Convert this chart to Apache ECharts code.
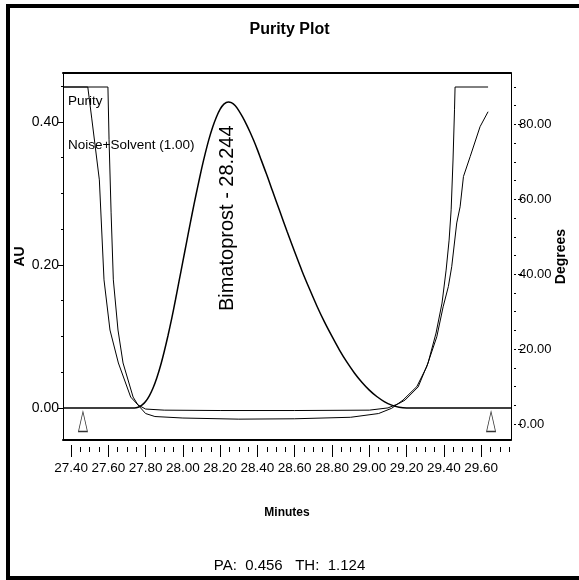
<!DOCTYPE html>
<html><head><meta charset="utf-8">
<script src="https://cdn.jsdelivr.net/npm/echarts@6/dist/echarts.min.js"></script>
<style>html,body{margin:0;padding:0;background:#fff;overflow:hidden}#c{width:579px;height:580px}</style>
</head><body><div id="c"></div><script>
// ---- data ----
const chromTime = [27.357, 27.70, 27.74, 27.76, 27.78, 27.80, 27.82, 27.84, 27.86, 27.88, 27.90, 27.92, 27.94, 27.96, 27.98, 28.00, 28.02, 28.04, 28.06, 28.08, 28.10, 28.12, 28.14, 28.16, 28.18, 28.20, 28.22, 28.244, 28.26, 28.28, 28.30, 28.32, 28.34, 28.36, 28.38, 28.40, 28.42, 28.44, 28.46, 28.48, 28.52, 28.56, 28.60, 28.64, 28.68, 28.72, 28.76, 28.80, 28.84, 28.88, 28.92, 28.96, 29.00, 29.04, 29.08, 29.12, 29.16, 29.20, 29.76];
const chromAU   = [0, 0, 0, 0.001, 0.004, 0.009, 0.017, 0.028, 0.042, 0.059, 0.079, 0.101, 0.125, 0.151, 0.178, 0.205, 0.232, 0.259, 0.285, 0.310, 0.334, 0.356, 0.376, 0.393, 0.407, 0.418, 0.425, 0.428, 0.427, 0.423, 0.416, 0.407, 0.397, 0.386, 0.374, 0.361, 0.347, 0.333, 0.319, 0.304, 0.275, 0.246, 0.218, 0.191, 0.166, 0.142, 0.120, 0.100, 0.081, 0.064, 0.049, 0.036, 0.025, 0.016, 0.009, 0.004, 0.001, 0, 0];

const angleTime = [27.357, 27.49, 27.511, 27.552, 27.577, 27.609, 27.654, 27.72, 27.759, 27.80, 27.85, 28.00, 28.30, 28.60, 28.90, 29.05, 29.12, 29.181, 29.255, 29.308, 29.362, 29.396, 29.424, 29.442, 29.469, 29.487, 29.505, 29.541, 29.594, 29.637];
const angleDeg  = [90, 90, 81.7, 65.2, 38.5, 25.1, 16.3, 7.2, 5.1, 2.8, 2.0, 1.6, 1.3, 1.4, 1.8, 2.8, 4.2, 6.4, 10.0, 15.3, 23.3, 31.3, 36.7, 42.0, 53.7, 58.0, 66.1, 71.4, 79.4, 83.4];

const thrTime = [27.357, 27.598, 27.604, 27.615, 27.627, 27.652, 27.679, 27.733, 27.759, 27.80, 27.90, 28.20, 28.60, 29.00, 29.10, 29.16, 29.192, 29.262, 29.315, 29.358, 29.39, 29.412, 29.428, 29.439, 29.449, 29.457, 29.46, 29.637];
const thrDeg  = [90, 90, 75.9, 56.4, 38.5, 25.1, 16.3, 7.2, 5.1, 4.0, 3.7, 3.6, 3.6, 3.7, 4.3, 5.5, 6.4, 9.9, 16.3, 24.3, 32.3, 41.1, 49.1, 57.2, 70.5, 83.9, 90, 90];

const markerTime = [27.464, 29.653];
const markerAU   = [-0.019, -0.019];

const xTickLabels   = [27.40, 27.60, 27.80, 28.00, 28.20, 28.40, 28.60, 28.80, 29.00, 29.20, 29.40, 29.60];
const auTickLabels  = [0.00, 0.20, 0.40];
const degTickLabels = [0, 20, 40, 60, 80];

const peakName = 'Bimatoprost - 28.244';
const peakTime = 28.244;
const peakAU = 0.428;

const seriesNames = ['Purity', 'Noise+Solvent (1.00)'];
const titleText = 'Purity Plot';
const footerText = 'PA:  0.456   TH:  1.124';

// axis ranges
const xMin = 27.357, xMax = 29.76;
const auMin = -0.0448, auMax = 0.4685;
const degMin = -4.27, degMax = 93.74;

// minor tick positions (axis decoration only)
function steps(a, b, s) { const r = []; for (let v = a; v <= b + 1e-9; v += s) r.push(Math.round(v * 1000) / 1000); return r; }
const xMinor = steps(27.40, 29.75, 0.05);
const auMinor = steps(0, 0.45, 0.05);
const degMinor = steps(0, 90, 5);

const zip = (a, b) => a.map((v, i) => [v, b[i]]);
const FONT = "'Liberation Sans', Arial, sans-serif";
const K = '#000';

const chart = echarts.init(document.getElementById('c'), null, { renderer: 'canvas' });
chart.setOption({
  animation: false,
  backgroundColor: '#fff',
  textStyle: { fontFamily: FONT, color: K },
  title: [
    { text: titleText, left: 'center', top: 17, textStyle: { fontFamily: FONT, fontSize: 16, fontWeight: 'bold', color: K } },
    { text: footerText, left: 'center', top: 553, textStyle: { fontFamily: FONT, fontSize: 15, fontWeight: 'normal', color: K } }
  ],
  graphic: [
    { type: 'rect', shape: { x: 8, y: 6, width: 600, height: 572 }, style: { fill: 'none', stroke: K, lineWidth: 4 }, silent: true, z: 100 }
  ],
  legend: {
    data: seriesNames, orient: 'vertical', left: 63, top: 93, padding: 0,
    icon: 'rect', itemWidth: 0, itemHeight: 16, itemGap: 28, selectedMode: false,
    textStyle: { fontFamily: FONT, fontSize: 13.5, color: K }
  },
  grid: { left: 63, right: 68, top: 73, bottom: 140, show: false, containLabel: false, outerBoundsMode: 'none' },
  xAxis: [
    { type: 'value', min: xMin, max: xMax, position: 'bottom',
      axisLine: { show: true, onZero: false, lineStyle: { color: K, width: 2 } }, axisTick: { show: false }, axisLabel: { show: false }, splitLine: { show: false } },
    { type: 'value', min: xMin, max: xMax, position: 'bottom', offset: 5,
      axisLine: { show: false, onZero: false }, splitLine: { show: false },
      axisTick: { show: true, length: 12, customValues: xTickLabels, lineStyle: { color: K, width: 1 } },
      axisLabel: { show: true, customValues: xTickLabels, formatter: v => v.toFixed(2), margin: 16, fontSize: 13.5, fontFamily: FONT, color: K },
      name: 'Minutes', nameLocation: 'middle', nameGap: 62, nameMoveOverlap: false, nameTextStyle: { fontFamily: FONT, fontSize: 12, fontWeight: 'bold', color: K } },
    { type: 'value', min: xMin, max: xMax, position: 'bottom', offset: 7,
      axisLine: { show: false, onZero: false }, splitLine: { show: false }, axisLabel: { show: false },
      axisTick: { show: true, length: 5, customValues: xMinor, lineStyle: { color: K, width: 1 } } },
    { type: 'value', min: xMin, max: xMax, position: 'top',
      axisLine: { show: true, onZero: false, lineStyle: { color: K, width: 2 } }, axisTick: { show: false }, axisLabel: { show: false }, splitLine: { show: false } }
  ],
  yAxis: [
    { type: 'value', min: auMin, max: auMax, position: 'left',
      axisLine: { show: true, onZero: false, lineStyle: { color: K, width: 1 } }, splitLine: { show: false },
      axisTick: { show: true, length: 5, customValues: auTickLabels, lineStyle: { color: K } },
      axisLabel: { show: true, customValues: auTickLabels, formatter: v => v.toFixed(2), margin: 4, fontSize: 14, fontFamily: FONT, color: K },
      name: 'AU', nameLocation: 'middle', nameRotate: 90, nameGap: 36, nameMoveOverlap: false, nameTextStyle: { fontFamily: FONT, fontSize: 14, fontWeight: 'bold', color: K } },
    { type: 'value', min: degMin, max: degMax, position: 'right',
      axisLine: { show: true, onZero: false, lineStyle: { color: K, width: 1 } }, splitLine: { show: false }, axisTick: { show: false }, axisLabel: { show: false },
      name: 'Degrees', nameLocation: 'middle', nameRotate: 90, nameGap: 43, nameMoveOverlap: false, nameTextStyle: { fontFamily: FONT, fontSize: 14, fontWeight: 'bold', color: K } },
    { type: 'value', min: auMin, max: auMax, position: 'left',
      axisLine: { show: false, onZero: false }, splitLine: { show: false }, axisLabel: { show: false },
      axisTick: { show: true, length: 2, customValues: auMinor, lineStyle: { color: K } } },
    { type: 'value', min: degMin, max: degMax, position: 'right', offset: 7,
      axisLine: { show: false, onZero: false }, splitLine: { show: false },
      axisTick: { show: true, length: 4, customValues: degTickLabels, lineStyle: { color: K } },
      axisLabel: { show: true, customValues: degTickLabels, formatter: v => v.toFixed(2), margin: 1, fontSize: 13, fontFamily: FONT, color: K } },
    { type: 'value', min: degMin, max: degMax, position: 'right', offset: 3,
      axisLine: { show: false, onZero: false }, splitLine: { show: false }, axisLabel: { show: false },
      axisTick: { show: true, length: 2, customValues: degMinor, lineStyle: { color: K } } }
  ],
  series: [
    { name: 'Chromatogram', type: 'line', xAxisIndex: 0, yAxisIndex: 0, data: zip(chromTime, chromAU),
      symbol: 'none', smooth: 0.3, lineStyle: { color: K, width: 1.5 }, itemStyle: { color: K }, z: 3,
      markPoint: { symbol: 'circle', symbolSize: 1, itemStyle: { color: 'rgba(0,0,0,0)' },
        label: { show: true, formatter: peakName, rotate: 90, position: [0, 24], align: 'right', verticalAlign: 'middle',
                 fontFamily: FONT, fontSize: 20, color: K },
        data: [{ coord: [peakTime, peakAU], value: peakTime }] } },
    { name: seriesNames[0], type: 'line', xAxisIndex: 0, yAxisIndex: 1, data: zip(angleTime, angleDeg),
      symbol: 'none', lineStyle: { color: K, width: 1 }, itemStyle: { color: K }, z: 2 },
    { name: seriesNames[1], type: 'line', xAxisIndex: 0, yAxisIndex: 1, data: zip(thrTime, thrDeg),
      symbol: 'none', lineStyle: { color: K, width: 1 }, itemStyle: { color: K }, z: 2 },
    { name: 'Integration marks', type: 'scatter', xAxisIndex: 0, yAxisIndex: 0, data: zip(markerTime, markerAU),
      symbol: 'triangle', symbolSize: [9, 20], itemStyle: { color: '#fff', borderColor: K, borderWidth: 1 }, z: 4 }
  ]
});
</script></body></html>
